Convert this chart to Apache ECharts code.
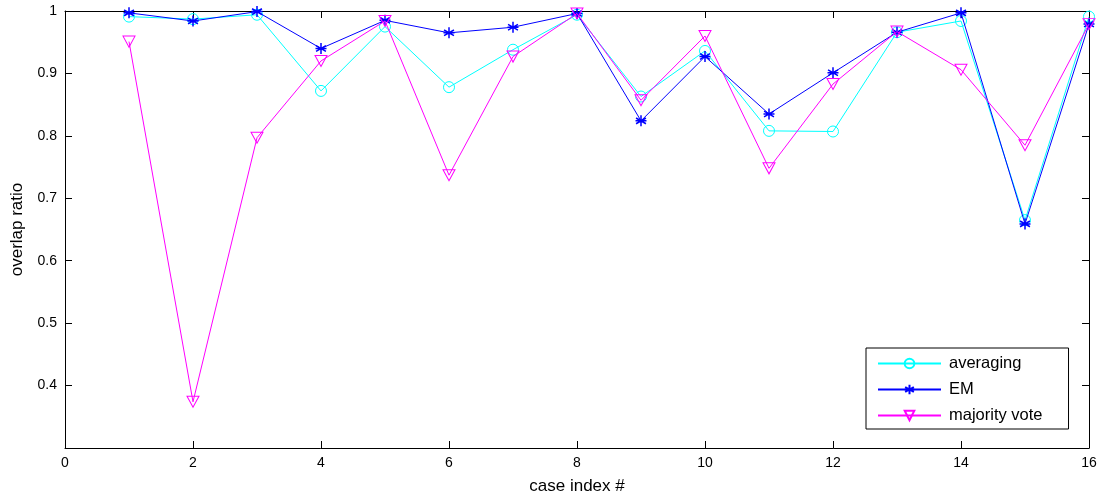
<!DOCTYPE html>
<html>
<head>
<meta charset="utf-8">
<script src="https://cdn.jsdelivr.net/npm/echarts@6/dist/echarts.min.js"></script>
<style>html,body{margin:0;padding:0;background:#fff}#c{width:1098px;height:498px}</style>
</head>
<body>
<div id="c"></div>
<script>
var caseIndex = [1,2,3,4,5,6,7,8,9,10,11,12,13,14,15,16];
var averaging = [0.991,0.987,0.994,0.872,0.975,0.878,0.938,0.994,0.863,0.936,0.808,0.807,0.966,0.984,0.665,0.991];
var em = [0.997,0.984,0.999,0.940,0.985,0.965,0.974,0.996,0.824,0.927,0.835,0.901,0.966,0.997,0.659,0.979];
var majorityVote = [0.951,0.374,0.797,0.920,0.984,0.737,0.927,0.996,0.857,0.960,0.748,0.883,0.967,0.906,0.785,0.979];
var seriesNames = ['averaging','EM','majority vote'];
var xTicks = [0,2,4,6,8,10,12,14,16];
var yTicks = [0.4,0.5,0.6,0.7,0.8,0.9,1];

function pairs(v){ return caseIndex.map(function(x,i){ return [x, v[i]]; }); }
var font = 'Liberation Sans, Arial, sans-serif';
var axisCommon = {
  axisLine:{show:true,onZero:false,lineStyle:{color:'#000',width:1}},
  axisTick:{show:true,inside:true,length:7,lineStyle:{color:'#000'}},
  splitLine:{show:false}
};
var chart = echarts.init(document.getElementById('c'));
chart.setOption({
  animation:false,
  backgroundColor:'#fff',
  grid:{left:65,right:9,top:11,bottom:50,containLabel:false,outerBoundsMode:'none'},
  legend:{
    orient:'vertical', left:866, top:348,
    data:seriesNames,
    itemWidth:63, itemHeight:12, itemGap:9,
    padding:[7,26,5,11],
    borderColor:'#000', borderWidth:1, backgroundColor:'#fff',
    textStyle:{fontFamily:font,fontSize:16.5,color:'#000',padding:[0,0,0,3]}
  },
  xAxis:[
    Object.assign({type:'value',position:'bottom',min:0,max:16,interval:2,
      name:'case index #',nameLocation:'middle',nameGap:30,
      nameTextStyle:{fontFamily:font,fontSize:17,color:'#000'},
      axisLabel:{fontFamily:font,fontSize:14,color:'#000',margin:8}}, axisCommon),
    Object.assign({type:'value',position:'top',min:0,max:16,interval:2,
      axisLabel:{show:false}}, axisCommon)
  ],
  yAxis:[
    Object.assign({type:'value',position:'left',min:0.3,max:1,interval:0.1,
      name:'overlap ratio',nameLocation:'middle',nameGap:39,
      nameTextStyle:{fontFamily:font,fontSize:17,color:'#000'},
      axisLabel:{fontFamily:font,fontSize:14,color:'#000',margin:8,showMinLabel:false,
        formatter:function(v){ return (Math.round(v*10)/10).toString(); }}}, axisCommon),
    Object.assign({type:'value',position:'right',min:0.3,max:1,interval:0.1,
      axisLabel:{show:false}}, axisCommon)
  ],
  series:[
    {name:seriesNames[0],type:'line',data:pairs(averaging),symbol:'circle',symbolSize:11,
     itemStyle:{color:'rgba(0,0,0,0)',borderColor:'#00ffff',borderWidth:1},
     lineStyle:{color:'#00ffff',width:1},z:2},
    {name:seriesNames[1],type:'line',data:pairs(em),
     symbol:'path://M0,-5L0,5M-4.5,-2.6L4.5,2.6M-4.5,2.6L4.5,-2.6M-5,0L5,0',symbolSize:11,
     itemStyle:{color:'#0000ff',borderColor:'#0000ff',borderWidth:1.5},
     lineStyle:{color:'#0000ff',width:1},z:3},
    {name:seriesNames[2],type:'line',data:pairs(majorityVote),
     symbol:'path://M-5,-4L5,-4L0,6Z',symbolSize:[12,11],
     itemStyle:{color:'rgba(0,0,0,0)',borderColor:'#ff00ff',borderWidth:1},
     lineStyle:{color:'#ff00ff',width:1},z:4}
  ]
});
</script>
</body>
</html>
